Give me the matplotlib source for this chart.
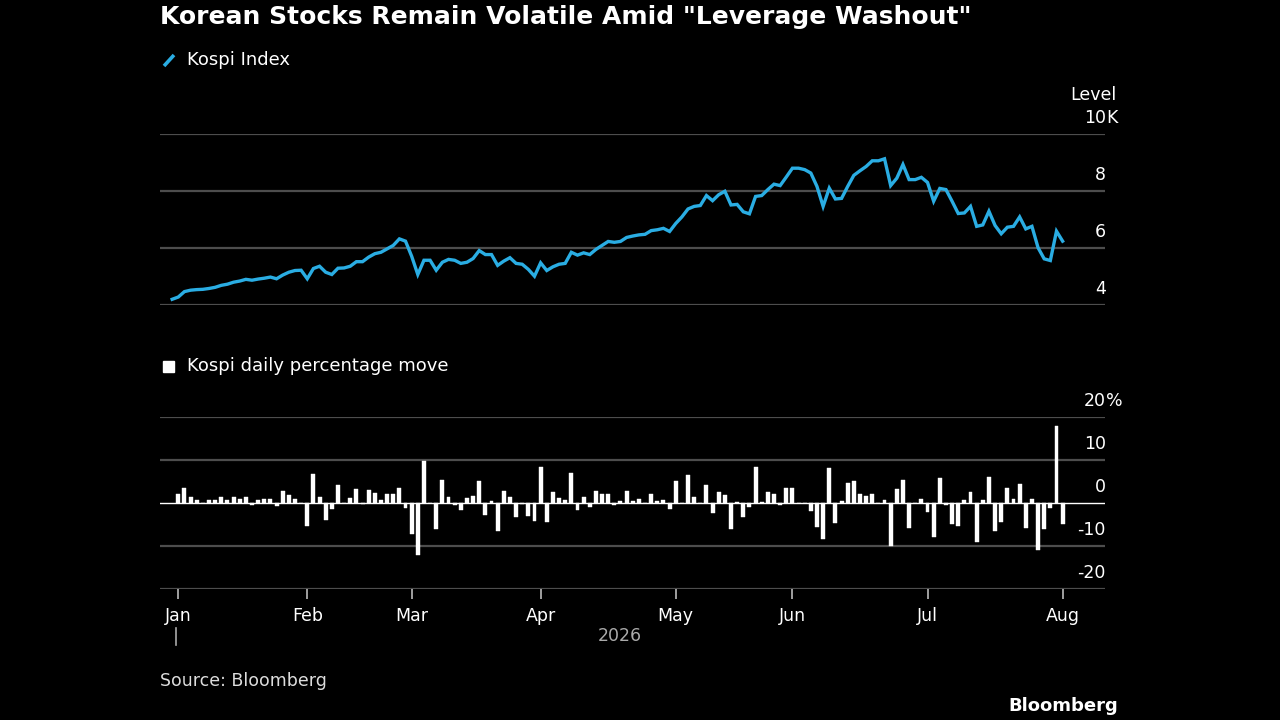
import matplotlib

matplotlib.use("Agg")
import matplotlib.pyplot as plt
import matplotlib.transforms as mtransforms
from matplotlib.lines import Line2D
from matplotlib.patches import Rectangle

# Kospi level (thousands), one point per trading day, starting with the prior close
kospi_level = [
    4.20, 4.28, 4.47, 4.52, 4.54, 4.55, 4.58, 4.62, 4.69, 4.73,
    4.80, 4.84, 4.90, 4.87, 4.91, 4.94, 4.98, 4.92, 5.05, 5.15,
    5.21, 5.22, 4.92, 5.28, 5.36, 5.15, 5.07, 5.29, 5.30, 5.36,
    5.52, 5.52, 5.68, 5.80, 5.85, 5.97, 6.09, 6.32, 6.24, 5.71,
    5.07, 5.57, 5.57, 5.22, 5.50, 5.60, 5.57, 5.46, 5.50, 5.63,
    5.91, 5.77, 5.77, 5.39, 5.54, 5.66, 5.46, 5.43, 5.25, 5.01,
    5.48, 5.21, 5.34, 5.43, 5.46, 5.85, 5.75, 5.83, 5.77, 5.95,
    6.09, 6.23, 6.20, 6.23, 6.37, 6.42, 6.46, 6.48, 6.61, 6.64,
    6.69, 6.58, 6.86, 7.09, 7.37, 7.46, 7.49, 7.84, 7.66, 7.87,
    7.99, 7.51, 7.53, 7.27, 7.20, 7.81, 7.84, 8.05, 8.24, 8.19,
    8.49, 8.80, 8.80, 8.75, 8.63, 8.16, 7.46, 8.10, 7.72, 7.74,
    8.16, 8.55, 8.71, 8.86, 9.06, 9.06, 9.13, 8.19, 8.45, 8.93,
    8.40, 8.40, 8.48, 8.30, 7.64, 8.09, 8.05, 7.64, 7.21, 7.23,
    7.46, 6.76, 6.81, 7.29, 6.79, 6.50, 6.73, 6.76, 7.09, 6.67,
    6.76, 6.01, 5.62, 5.56, 6.59, 6.24,
]

# Daily percentage move, one bar per trading day
daily_move = [
    2.2, 3.4, 1.5, 0.6, 0.1, 0.8, 0.8, 1.5, 0.6, 1.5,
    0.9, 1.3, -0.5, 0.6, 0.9, 0.9, -0.8, 2.7, 1.8, 1.0,
    0.1, -5.3, 6.8, 1.5, -4.0, -1.5, 4.1, 0.1, 1.1, 3.2,
    -0.2, 3.1, 2.3, 0.7, 2.2, 2.0, 3.6, -1.1, -7.2, -12.1,
    9.7, 0.1, -6.0, 5.3, 1.4, -0.4, -1.7, 1.2, 1.6, 5.1,
    -2.8, 0.4, -6.5, 2.7, 1.5, -3.3, -0.3, -3.0, -4.3, 8.4,
    -4.5, 2.6, 1.2, 0.8, 6.9, -1.6, 1.4, -0.9, 2.7, 2.2,
    2.2, -0.5, 0.5, 2.7, 0.5, 0.9, 0.1, 2.2, 0.4, 0.8,
    -1.4, 5.2, 0.1, 6.4, 1.5, 0.1, 4.3, -2.3, 2.6, 1.8,
    -6.1, 0.3, -3.3, -0.9, 8.4, 0.2, 2.6, 2.2, -0.5, 3.6,
    3.6, 0.1, 0.1, -1.9, -5.6, -8.3, 8.1, -4.6, 0.4, 4.6,
    5.2, 2.1, 1.6, 2.2, 0.1, 0.7, -10.0, 3.3, 5.4, -5.8,
    0.1, 1.0, -2.0, -7.9, 5.7, -0.5, -4.9, -5.3, 0.6, 2.6,
    -9.0, 0.8, 6.1, -6.4, -4.5, 3.6, 0.9, 4.4, -5.7, 1.0,
    -10.9, -6.0, -1.2, 17.9, -4.8,
]

month_labels = ["Jan", "Feb", "Mar", "Apr", "May", "Jun", "Jul", "Aug"]
month_start_idx = [0, 21, 38, 59, 81, 100, 122, 144]
level_ticks = [4, 6, 8, 10]
move_ticks = [-20, -10, 0, 10, 20]

W, H = 1280, 720
BG = "#000000"
BLUE = "#2aade3"
GRID = "#4d4d4d"
FONT = "DejaVu Sans"
plt.rcParams["font.family"] = [FONT]


def box(x0, y0, x1, y1):
    return [x0 / W, 1 - y1 / H, (x1 - x0) / W, (y1 - y0) / H]


def fx(px):
    return px / W


def fy(py):
    return 1 - py / H


fig = plt.figure(figsize=(W / 100, H / 100), dpi=100, facecolor=BG)

xlim = (-2.98, 150.9)
level_x = list(range(-1, len(kospi_level) - 1))
bar_x = list(range(len(daily_move)))

# ---- top panel: index level
ax1 = fig.add_axes(box(160, 134, 1105, 305))
ax1.set_facecolor(BG)
for v in level_ticks:
    ax1.axhline(v, color=GRID, lw=1.6, zorder=1)
ax1.plot(level_x, kospi_level, color=BLUE, lw=2.4, solid_joinstyle="miter", zorder=3)
ax1.set_xlim(*xlim)
ax1.set_ylim(4, 10)
ax1.axis("off")

# tick labels sit above their gridlines, numbers right-aligned, unit hangs to the right
lbl = mtransforms.offset_copy(ax1.transData, fig=fig, x=0, y=16, units="dots")
tr1 = mtransforms.blended_transform_factory(fig.transFigure, lbl)
for v in level_ticks:
    ax1.text(fx(1106), v, f"{v}" if v < 10 else "10", transform=tr1, fontsize=12.5,
             color="white", ha="right", va="center")
ax1.text(fx(1106), 10, "K", transform=tr1, fontsize=12.5, color="white",
         ha="left", va="center")
fig.text(fx(1117), fy(95), "Level", fontsize=12.5, color="white", ha="right", va="center")

# ---- bottom panel: daily move
ax2 = fig.add_axes(box(160, 417, 1105, 589))
ax2.set_facecolor(BG)
for v in move_ticks:
    if v != 0:
        ax2.axhline(v, color=GRID, lw=1.6, zorder=1)
ax2.bar(bar_x, daily_move, width=0.64, color="white", edgecolor="white", lw=0.3, zorder=3)
ax2.axhline(0, color="white", lw=1.0, zorder=2)
ax2.set_xlim(*xlim)
ax2.set_ylim(-20, 20)
for s in ax2.spines.values():
    s.set_visible(False)
ax2.set_yticks([])
ax2.set_xticks(month_start_idx)
ax2.set_xticklabels(month_labels)
ax2.tick_params(axis="x", length=7, width=1.2, color="#bbbbbb", pad=6,
                labelsize=12.5, labelcolor="white")

lbl2 = mtransforms.offset_copy(ax2.transData, fig=fig, x=0, y=16, units="dots")
tr2 = mtransforms.blended_transform_factory(fig.transFigure, lbl2)
for v in move_ticks:
    ax2.text(fx(1106), v, f"{v}", transform=tr2, fontsize=12.5, color="white",
             ha="right", va="center")
ax2.text(fx(1106), 20, "%", transform=tr2, fontsize=12.5, color="white",
         ha="left", va="center")

# year marker under the month axis
yr = mtransforms.blended_transform_factory(ax2.transData, fig.transFigure)
ax2.add_artist(Line2D([-0.3, -0.3], [fy(628), fy(645)], transform=yr,
                      color="#aaaaaa", lw=1.2, clip_on=False))
fig.text(fx(620), fy(636), "2026", fontsize=12.5, color="#aaaaaa", ha="center", va="center")

# ---- titles and legends
fig.text(fx(160), fy(17), 'Korean Stocks Remain Volatile Amid "Leverage Washout"',
         fontsize=18, fontweight="bold", color="white", ha="left", va="center")
fig.add_artist(Line2D([fx(164), fx(174)], [fy(66), fy(55)], color=BLUE, lw=2.6,
                      solid_capstyle="butt"))
fig.text(fx(187), fy(60), "Kospi Index", fontsize=13, color="white", ha="left", va="center")
fig.add_artist(Rectangle((fx(163), fy(372)), fx(11), 11 / H, color="white"))
fig.text(fx(187), fy(366), "Kospi daily percentage move", fontsize=13, color="white",
         ha="left", va="center")

fig.text(fx(160), fy(681), "Source: Bloomberg", fontsize=12.5, color="#dddddd",
         ha="left", va="center")
fig.text(fx(1118), fy(706), "Bloomberg", fontsize=13, fontweight="bold", color="white",
         ha="right", va="center")

fig.savefig("out.png", dpi=100, facecolor=BG)
